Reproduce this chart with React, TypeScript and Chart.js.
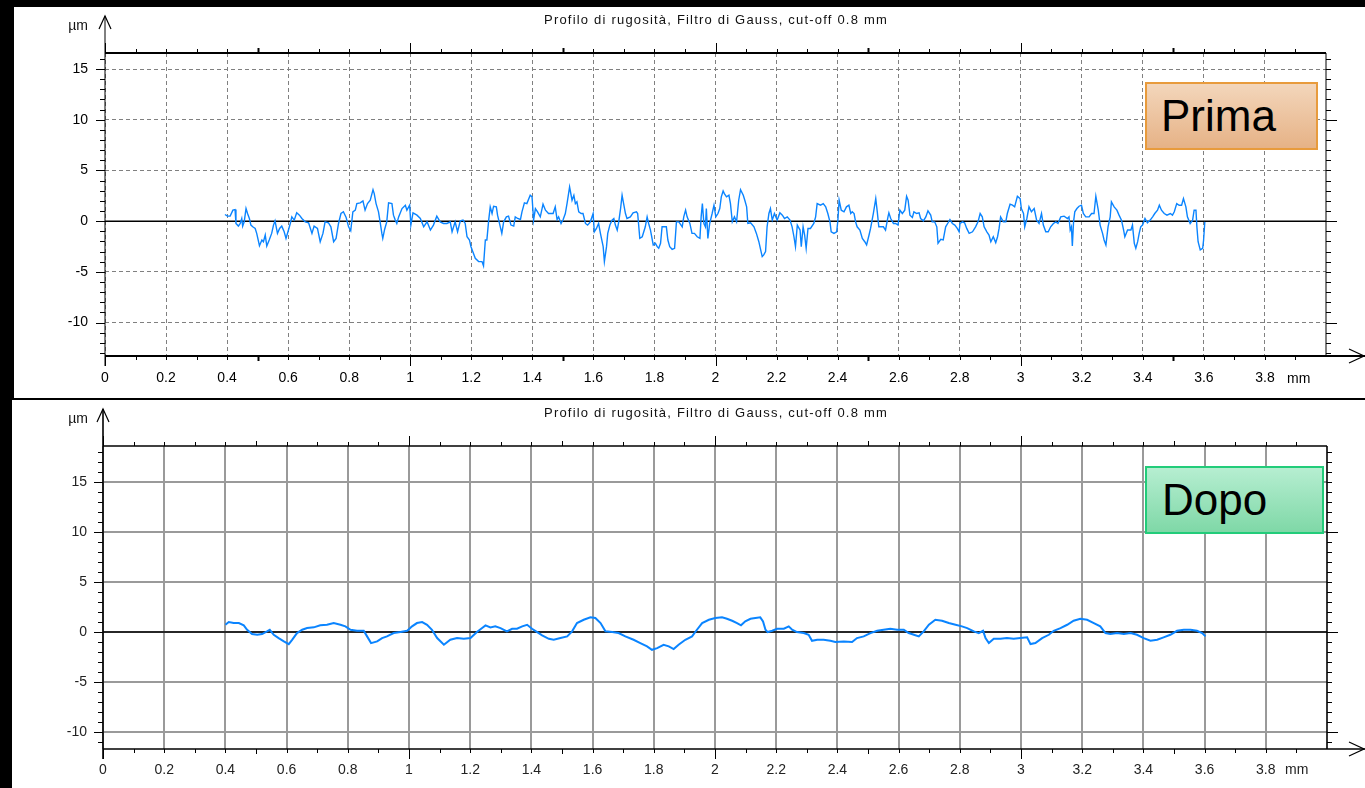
import React, { useEffect, useRef } from "react";
import { Chart, registerables } from "chart.js";

Chart.register(...registerables);

// ---------- data ----------
const X_TICK_VALUES = [0, 0.2, 0.4, 0.6, 0.8, 1, 1.2, 1.4, 1.6, 1.8, 2, 2.2, 2.4, 2.6, 2.8, 3, 3.2, 3.4, 3.6, 3.8];
const X_TICK_LABELS = ["0", "0.2", "0.4", "0.6", "0.8", "1", "1.2", "1.4", "1.6", "1.8", "2", "2.2", "2.4", "2.6", "2.8", "3", "3.2", "3.4", "3.6", "3.8"];
const Y_TICK_VALUES = [-10, -5, 0, 5, 10, 15];
const TITLE = "Profilo di rugosità, Filtro di Gauss, cut-off 0.8 mm";
const Y_UNIT = "µm";
const X_UNIT = "mm";

// "Prima" profile (mm, µm)
const PRIMA_X = [
  0.393, 0.401, 0.410, 0.419, 0.426, 0.429, 0.437, 0.443, 0.448, 0.451, 0.456, 0.462, 0.467, 0.473, 0.478, 0.484, 0.492, 0.497, 0.506, 0.514,
  0.519, 0.525, 0.530, 0.538, 0.546, 0.552, 0.557, 0.565, 0.572, 0.579, 0.587, 0.593, 0.601, 0.607, 0.612, 0.620, 0.628, 0.637, 0.645, 0.656,
  0.667, 0.678, 0.685, 0.696, 0.705, 0.714, 0.721, 0.732, 0.740, 0.749, 0.757, 0.765, 0.773, 0.781, 0.790, 0.798, 0.805, 0.812, 0.820, 0.825,
  0.836, 0.845, 0.852, 0.860, 0.869, 0.878, 0.882, 0.888, 0.896, 0.902, 0.907, 0.910, 0.916, 0.923, 0.929, 0.940, 0.945, 0.951, 0.956, 0.962,
  0.973, 0.984, 0.989, 0.998, 1.002, 1.009, 1.022, 1.033, 1.044, 1.055, 1.066, 1.076, 1.087, 1.098, 1.109, 1.120, 1.131, 1.137, 1.147, 1.155,
  1.164, 1.173, 1.180, 1.186, 1.194, 1.199, 1.205, 1.213, 1.224, 1.235, 1.240, 1.246, 1.251, 1.257, 1.262, 1.268, 1.273, 1.282, 1.286, 1.295,
  1.300, 1.306, 1.315, 1.322, 1.330, 1.339, 1.344, 1.352, 1.361, 1.366, 1.374, 1.382, 1.393, 1.399, 1.404, 1.410, 1.417, 1.426, 1.435, 1.443,
  1.453, 1.468, 1.475, 1.481, 1.486, 1.494, 1.501, 1.508, 1.514, 1.522, 1.530, 1.536, 1.541, 1.546, 1.552, 1.560, 1.566, 1.574, 1.581, 1.590,
  1.599, 1.603, 1.610, 1.617, 1.623, 1.632, 1.636, 1.643, 1.647, 1.654, 1.661, 1.667, 1.672, 1.678, 1.683, 1.689, 1.694, 1.699, 1.705, 1.710,
  1.721, 1.730, 1.741, 1.745, 1.752, 1.760, 1.770, 1.776, 1.781, 1.787, 1.796, 1.803, 1.809, 1.814, 1.820, 1.825, 1.839, 1.844, 1.850, 1.858,
  1.866, 1.872, 1.880, 1.891, 1.896, 1.902, 1.907, 1.916, 1.923, 1.931, 1.940, 1.949, 1.953, 1.957, 1.962, 1.967, 1.970, 1.975, 1.981, 1.989,
  1.995, 2.001, 2.008, 2.014, 2.019, 2.025, 2.029, 2.036, 2.044, 2.049, 2.055, 2.062, 2.069, 2.076, 2.082, 2.091, 2.096, 2.102, 2.106, 2.115,
  2.126, 2.134, 2.142, 2.148, 2.153, 2.158, 2.164, 2.169, 2.175, 2.180, 2.186, 2.193, 2.202, 2.211, 2.219, 2.226, 2.235, 2.244, 2.251, 2.257,
  2.262, 2.268, 2.277, 2.281, 2.287, 2.292, 2.297, 2.303, 2.311, 2.322, 2.328, 2.333, 2.344, 2.353, 2.361, 2.368, 2.375, 2.379, 2.388, 2.397,
  2.401, 2.405, 2.412, 2.421, 2.429, 2.437, 2.443, 2.448, 2.454, 2.459, 2.464, 2.473, 2.481, 2.489, 2.495, 2.503, 2.508, 2.517, 2.525, 2.530,
  2.535, 2.550, 2.557, 2.565, 2.568, 2.574, 2.583, 2.590, 2.598, 2.604, 2.612, 2.620, 2.626, 2.631, 2.637, 2.645, 2.650, 2.659, 2.667, 2.672,
  2.681, 2.689, 2.696, 2.705, 2.710, 2.718, 2.725, 2.729, 2.738, 2.746, 2.754, 2.762, 2.768, 2.776, 2.784, 2.792, 2.798, 2.801, 2.809, 2.816,
  2.823, 2.831, 2.842, 2.852, 2.860, 2.867, 2.874, 2.880, 2.889, 2.896, 2.902, 2.910, 2.918, 2.924, 2.929, 2.934, 2.943, 2.951, 2.956, 2.965,
  2.973, 2.980, 2.989, 2.998, 3.002, 3.009, 3.013, 3.020, 3.027, 3.035, 3.044, 3.052, 3.060, 3.068, 3.074, 3.082, 3.090, 3.098, 3.107, 3.115,
  3.122, 3.131, 3.142, 3.153, 3.158, 3.162, 3.166, 3.169, 3.173, 3.177, 3.184, 3.191, 3.199, 3.205, 3.213, 3.224, 3.232, 3.240, 3.246, 3.254,
  3.260, 3.268, 3.273, 3.279, 3.286, 3.293, 3.297, 3.306, 3.315, 3.322, 3.330, 3.337, 3.341, 3.350, 3.361, 3.366, 3.372, 3.377, 3.383, 3.388,
  3.393, 3.399, 3.407, 3.415, 3.424, 3.432, 3.439, 3.448, 3.454, 3.461, 3.470, 3.479, 3.490, 3.497, 3.503, 3.511, 3.519, 3.527, 3.533, 3.541,
  3.546, 3.555, 3.563, 3.568, 3.574, 3.577, 3.581, 3.588, 3.596, 3.599, 3.603,
];
const PRIMA_Y = [
  0.65, 0.49, 0.49, 1.08, 1.14, -0.23, -0.49, -0.23, 0.26, -0.49, -0.07, 1.24, 0.75, 0.26, -0.39, -0.56, -0.72, -1.21, -2.42, -1.86,
  -2.03, -1.37, -2.45, -1.86, -1.21, -0.39, 0.03, -1.21, -0.72, -0.49, -1.05, -1.70, -0.88, -0.23, 0.42, 0.10, 0.82, 0.59, 0.26, -0.07,
  -0.16, -1.21, -0.49, -0.72, -2.03, -1.21, -0.07, -0.16, -0.56, -2.03, -1.70, -0.23, 0.75, 0.92, 0.36, -0.56, -0.95, 0.92, 1.08, 1.73,
  1.80, 1.99, 1.08, 1.73, 2.06, 3.10, 2.71, 1.73, 0.92, -0.23, -1.21, -1.70, -0.82, -0.07, 1.80, 1.73, 0.59, 0.10, -0.23, 0.42,
  1.24, 1.57, 1.08, 1.57, -0.39, 0.82, 0.59, 0.26, -0.56, -0.07, -0.88, -0.39, 0.49, -0.07, -0.23, -0.23, -0.07, -1.05, -0.07, -1.05,
  0.03, 0.10, -0.23, -1.54, -1.86, -2.52, -3.01, -3.66, -3.99, -3.99, -4.41, -1.86, -1.86, 0.10, 1.41, 0.75, 1.47, 1.41, 0.59, -0.56,
  -1.21, -0.07, 0.42, 0.49, -0.39, -0.49, 0.42, 0.26, 0.16, 0.92, 1.80, 1.73, 2.55, 2.39, 0.10, 1.24, 0.92, 0.42, 1.67, 1.08,
  0.75, 0.75, 1.41, 0.16, 0.42, -0.23, 0.16, 0.75, 1.80, 3.37, 2.06, 2.55, 1.73, 1.90, 0.92, 0.75, 0.75, -0.23, -0.39, -0.07,
  0.75, -1.05, -0.72, -0.23, -1.21, -2.52, -3.99, -2.52, -1.21, -0.39, 0.10, 0.26, -0.39, -0.88, -0.07, 1.24, 2.55, 1.73, 0.75, 0.26,
  0.42, 0.82, 0.92, 0.75, -1.70, -1.54, -0.56, 0.42, -0.23, -0.88, -2.35, -2.19, -2.52, -2.68, -2.19, -0.56, -0.56, -1.86, -2.52, -2.78,
  -2.68, -0.07, -0.07, -0.56, 0.42, 1.08, 0.42, -0.23, -1.21, -1.21, -1.54, -1.70, 0.42, 1.73, -0.23, -0.56, 1.24, -1.70, -0.23, 0.75,
  1.57, 0.42, 0.75, 1.24, 2.39, 2.97, 2.71, 2.39, 2.55, 1.73, -0.07, 0.42, -0.07, 2.06, 3.10, 2.55, 2.06, 1.41, -0.23, -0.16,
  -0.56, -1.21, -2.03, -2.84, -3.50, -3.33, -3.01, -0.56, 0.75, 1.24, 0.10, 0.75, 0.10, 0.82, 0.59, 0.26, 0.42, 0.10, -0.56, -1.54,
  -2.52, -0.39, -0.88, -2.52, -0.56, -1.37, -2.68, -0.72, -0.72, -0.23, 0.42, 1.73, 1.57, 1.73, 1.41, 0.75, -0.07, -1.05, -1.21, -1.05,
  0.10, 2.06, 1.08, 0.92, 1.41, 1.57, 0.75, 0.92, 0.75, -0.07, -0.56, -0.88, -1.70, -2.03, -2.35, -1.37, -0.72, 0.75, 2.22, 0.92,
  -0.56, -0.56, -0.88, 0.42, 0.82, 0.26, -0.23, -0.23, -0.39, 1.08, 0.75, 1.08, 2.45, 2.06, 0.59, 0.36, 0.92, 0.75, 0.82, 0.26,
  0.03, 0.42, 1.01, 0.59, -0.07, -0.07, -0.56, -2.19, -1.80, -1.86, -0.56, -0.16, 0.16, -0.23, -0.39, -0.72, -1.05, -0.23, -0.07, -0.16,
  -0.72, -1.21, -1.05, -0.56, -0.07, 0.75, 0.42, -0.56, -1.05, -1.37, -2.03, -1.54, -2.12, -1.54, -0.72, 0.42, -0.07, -0.07, 0.75, 1.67,
  1.57, 1.41, 2.45, 2.22, 1.24, 0.75, -0.56, 0.26, 1.41, 0.92, 1.24, 0.10, -0.23, 0.75, -0.39, -1.05, -1.05, -0.56, -0.23, -0.07,
  -0.23, 0.42, 0.49, 0.26, 0.42, -0.88, -0.56, -2.45, -0.07, 0.92, 1.24, 1.47, 1.57, 0.75, 0.42, 0.42, 0.75, 0.75, 2.45, 1.08,
  -0.39, -1.21, -1.86, -2.35, -0.56, 0.42, 1.90, 1.41, 1.08, 0.59, 0.10, -0.88, -1.54, -0.88, -0.88, -0.39, -2.19, -2.68, -2.03, -1.21,
  -0.56, -0.39, 0.26, -0.16, 0.10, 0.42, 0.75, 1.08, 1.57, 1.08, 0.75, 0.59, 0.75, 0.59, 0.92, 1.73, 1.57, 1.57, 2.22, 1.41,
  0.42, -0.23, 0.10, 1.08, 1.08, -0.56, -2.03, -2.84, -2.68, -1.86, -0.07,
];

// "Dopo" profile (mm, µm)
const DOPO_X = [
  0.400, 0.411, 0.427, 0.444, 0.460, 0.471, 0.487, 0.504, 0.520, 0.536, 0.545, 0.558, 0.574, 0.591, 0.607, 0.618, 0.634, 0.651, 0.667, 0.689,
  0.710, 0.732, 0.754, 0.776, 0.792, 0.809, 0.830, 0.852, 0.863, 0.876, 0.896, 0.912, 0.928, 0.950, 0.972, 0.994, 1.010, 1.026, 1.043, 1.059,
  1.075, 1.092, 1.114, 1.135, 1.157, 1.179, 1.201, 1.222, 1.239, 1.250, 1.266, 1.282, 1.299, 1.320, 1.337, 1.353, 1.370, 1.386, 1.402, 1.419,
  1.435, 1.457, 1.473, 1.495, 1.517, 1.533, 1.549, 1.571, 1.593, 1.609, 1.626, 1.642, 1.664, 1.685, 1.707, 1.734, 1.756, 1.778, 1.794, 1.811,
  1.832, 1.849, 1.865, 1.881, 1.903, 1.925, 1.941, 1.958, 1.980, 2.001, 2.023, 2.039, 2.056, 2.072, 2.085, 2.099, 2.116, 2.132, 2.148, 2.157,
  2.165, 2.172, 2.187, 2.203, 2.225, 2.241, 2.252, 2.268, 2.290, 2.306, 2.317, 2.334, 2.355, 2.377, 2.393, 2.421, 2.448, 2.464, 2.486, 2.508,
  2.530, 2.551, 2.573, 2.595, 2.617, 2.633, 2.650, 2.666, 2.682, 2.699, 2.720, 2.742, 2.764, 2.786, 2.807, 2.824, 2.846, 2.862, 2.876, 2.884,
  2.895, 2.911, 2.933, 2.954, 2.976, 2.998, 3.020, 3.031, 3.047, 3.069, 3.091, 3.107, 3.129, 3.151, 3.172, 3.194, 3.216, 3.238, 3.259, 3.276,
  3.292, 3.314, 3.336, 3.358, 3.379, 3.401, 3.423, 3.445, 3.466, 3.488, 3.510, 3.532, 3.554, 3.575, 3.592, 3.603,
];
const DOPO_Y = [
  0.73, 1.00, 0.90, 0.90, 0.67, 0.23, -0.20, -0.27, -0.20, 0.07, 0.23, -0.27, -0.60, -0.93, -1.20, -0.77, -0.10, 0.23, 0.40, 0.47,
  0.67, 0.73, 0.90, 0.73, 0.57, 0.23, 0.13, 0.13, -0.43, -1.10, -0.93, -0.60, -0.43, -0.10, 0.00, 0.13, 0.57, 0.90, 1.00, 0.73,
  0.23, -0.60, -1.27, -0.77, -0.60, -0.67, -0.60, 0.00, 0.40, 0.67, 0.47, 0.57, 0.40, 0.07, 0.33, 0.33, 0.57, 0.73, 0.33, 0.00,
  -0.33, -0.67, -0.77, -0.60, -0.43, 0.07, 0.90, 1.23, 1.47, 1.40, 0.90, 0.07, 0.00, -0.10, -0.43, -0.77, -1.10, -1.43, -1.77, -1.60,
  -1.27, -1.43, -1.70, -1.27, -0.77, -0.43, 0.23, 0.90, 1.23, 1.40, 1.47, 1.33, 1.13, 0.90, 0.67, 1.07, 1.33, 1.40, 1.47, 1.07,
  0.23, 0.00, 0.13, 0.33, 0.33, 0.57, 0.23, 0.00, -0.10, -0.27, -0.87, -0.77, -0.77, -0.87, -1.00, -0.93, -1.00, -0.60, -0.43, -0.10,
  0.13, 0.23, 0.33, 0.23, 0.23, -0.10, -0.27, -0.43, 0.07, 0.73, 1.23, 1.13, 0.90, 0.73, 0.57, 0.40, 0.07, -0.10, 0.13, -0.60,
  -1.10, -0.67, -0.67, -0.60, -0.67, -0.60, -0.53, -1.20, -1.10, -0.60, -0.27, 0.13, 0.40, 0.73, 1.13, 1.33, 1.23, 0.90, 0.57, -0.10,
  -0.20, -0.10, -0.20, -0.10, -0.27, -0.60, -0.87, -0.77, -0.53, -0.27, 0.13, 0.23, 0.23, 0.13, -0.10, -0.43,
];

// ---------- chart panel ----------
type PanelCfg = {
  canvasLeft: number;
  canvasTop: number;
  width: number;
  height: number;
  padRight: number;
  yMin: number;
  yMax: number;
  xs: number[];
  ys: number[];
  lineWidth: number;
  gridColor: string;
  gridWidth: number;
  gridDash: number[];
  labelColor: string;
  frameTB: number;
  frameLR: number;
  midWidth: number;
  xLabelPad: number;
  yLabelPad: number;
};

const FONT = "'Liberation Sans', Arial, sans-serif";

function decorPlugin(p: PanelCfg) {
  const seg = (ctx: CanvasRenderingContext2D, x1: number, y1: number, x2: number, y2: number) => {
    ctx.beginPath();
    ctx.moveTo(x1, y1);
    ctx.lineTo(x2, y2);
    ctx.stroke();
  };
  return {
    id: "decor",
    beforeDatasetsDraw(chart: any) {
      const { ctx, chartArea: a, scales } = chart;
      const y0 = scales.y.getPixelForValue(0);
      ctx.save();
      ctx.strokeStyle = "#000";
      ctx.lineWidth = 1.5;
      seg(ctx, a.left, y0, a.right, y0);
      ctx.restore();
    },
    afterDraw(chart: any) {
      const { ctx, chartArea: a, scales } = chart;
      const W = chart.width;
      const L = a.left, R = a.right, T = a.top, B = a.bottom;
      const xs = scales.x, ys = scales.y;
      ctx.save();
      ctx.strokeStyle = "#000";
      ctx.lineCap = "butt";
      // x ticks (every 0.1 mm)
      for (let i = 0; i < 40; i++) {
        const px = Math.round(xs.getPixelForValue(i / 10)) + 0.5;
        const major = i % 10 === 0;
        const mid = i % 5 === 0 && !major;
        const len = major ? 10 : mid ? 5 : 4;
        ctx.lineWidth = mid ? p.midWidth : 1;
        seg(ctx, px, T, px, T - len);
        seg(ctx, px, B, px, B + len);
      }
      // y ticks (every 1 µm)
      ctx.lineWidth = 1;
      for (let v = Math.ceil(p.yMin); v <= Math.floor(p.yMax); v++) {
        const py = Math.round(ys.getPixelForValue(v)) + 0.5;
        seg(ctx, L, py, L - (v % 5 === 0 ? 9 : 5), py);
        seg(ctx, R, py, R + (v % 10 === 0 ? 11 : 5), py);
      }
      // frame
      ctx.lineWidth = p.frameTB;
      seg(ctx, L, T, R, T);
      seg(ctx, L, B, W, B);
      ctx.lineWidth = p.frameLR;
      seg(ctx, R, T, R, B);
      const tip = 9;
      seg(ctx, L, B + 10, L, tip);
      // arrows
      ctx.lineWidth = 1.2;
      ctx.beginPath();
      ctx.moveTo(L - 6, tip + 13);
      ctx.lineTo(L, tip);
      ctx.lineTo(L + 6, tip + 13);
      ctx.stroke();
      ctx.beginPath();
      ctx.moveTo(W - 16, B - 7);
      ctx.lineTo(W - 1, B);
      ctx.lineTo(W - 16, B + 7);
      ctx.stroke();
      ctx.restore();
    },
  };
}

function Panel({ p }: { p: PanelCfg }) {
  const ref = useRef<HTMLCanvasElement | null>(null);
  useEffect(() => {
    if (!ref.current) return;
    const data = p.xs.map((x, i) => ({ x, y: p.ys[i] }));
    const chart = new Chart(ref.current, {
      type: "line",
      data: {
        datasets: [
          {
            data,
            borderColor: "#0a84ff",
            borderWidth: p.lineWidth,
            pointRadius: 0,
            tension: 0,
            fill: false,
          },
        ],
      },
      options: {
        responsive: false,
        animation: false,
        devicePixelRatio: 1,
        events: [],
        layout: { padding: { top: 46, right: p.padRight, left: 0, bottom: 0 } },
        plugins: { legend: { display: false }, tooltip: { enabled: false } },
        scales: {
          x: {
            type: "linear",
            min: 0,
            max: 4,
            afterBuildTicks: (s: any) => {
              s.ticks = X_TICK_VALUES.map((v) => ({ value: v }));
            },
            afterFit: (s: any) => {
              s.height = p.height - 349;
            },
            ticks: {
              autoSkip: false,
              maxRotation: 0,
              padding: p.xLabelPad,
              color: p.labelColor,
              font: { family: FONT, size: 14 },
              callback: (_v: any, i: number) => X_TICK_LABELS[i],
            },
            grid: { color: p.gridColor, lineWidth: p.gridWidth, drawTicks: false },
            border: { display: false, dash: p.gridDash },
          },
          y: {
            type: "linear",
            min: p.yMin,
            max: p.yMax,
            afterBuildTicks: (s: any) => {
              s.ticks = Y_TICK_VALUES.map((v) => ({ value: v }));
            },
            afterFit: (s: any) => {
              s.width = 91;
            },
            ticks: {
              padding: p.yLabelPad,
              color: p.labelColor,
              font: { family: FONT, size: 14 },
              callback: (v: any) => String(v),
            },
            grid: { color: p.gridColor, lineWidth: p.gridWidth, drawTicks: false },
            border: { display: false, dash: p.gridDash },
          },
        },
      },
      plugins: [decorPlugin(p)],
    } as any);
    return () => chart.destroy();
  }, [p]);
  return (
    <canvas
      ref={ref}
      width={p.width}
      height={p.height}
      style={{ position: "absolute", left: p.canvasLeft, top: p.canvasTop, width: p.width, height: p.height }}
    />
  );
}

const TOP_PANEL: PanelCfg = {
  canvasLeft: 14,
  canvasTop: 7,
  width: 1351,
  height: 391,
  padRight: 39,
  yMin: -13.3,
  yMax: 16.58,
  xs: PRIMA_X,
  ys: PRIMA_Y,
  lineWidth: 1.4,
  gridColor: "#808080",
  gridWidth: 1,
  gridDash: [4, 3],
  labelColor: "#000",
  frameTB: 2,
  frameLR: 1,
  midWidth: 2,
  xLabelPad: 14,
  yLabelPad: 17,
};

const BOTTOM_PANEL: PanelCfg = {
  canvasLeft: 12,
  canvasTop: 400,
  width: 1353,
  height: 388,
  padRight: 38,
  yMin: -11.67,
  yMax: 18.57,
  xs: DOPO_X,
  ys: DOPO_Y,
  lineWidth: 2,
  gridColor: "#9a9a9a",
  gridWidth: 2,
  gridDash: [],
  labelColor: "#222",
  frameTB: 1.6,
  frameLR: 1.6,
  midWidth: 1,
  xLabelPad: 13,
  yLabelPad: 16,
};

const textStyle = (left: number, top: number, size: number, extra: any = {}) => ({
  position: "absolute" as const,
  left,
  top,
  fontFamily: FONT,
  fontSize: size,
  lineHeight: `${size + 4}px`,
  color: "#111",
  whiteSpace: "nowrap" as const,
  ...extra,
});

export default function App() {
  return (
    <div
      style={{
        position: "absolute",
        left: 0,
        top: 0,
        width: 1365,
        height: 788,
        overflow: "hidden",
        background: "#fff",
      }}
    >
      <Panel p={TOP_PANEL} />
      <Panel p={BOTTOM_PANEL} />

      {/* black frame pieces */}
      <div style={{ position: "absolute", left: 0, top: 0, width: 1365, height: 7, background: "#000" }} />
      <div style={{ position: "absolute", left: 0, top: 0, width: 14, height: 399, background: "#000" }} />
      <div style={{ position: "absolute", left: 0, top: 399, width: 12, height: 389, background: "#000" }} />
      <div style={{ position: "absolute", left: 12, top: 398, width: 1353, height: 2, background: "#000" }} />

      {/* titles & units */}
      <div style={textStyle(416, 11, 13, { width: 600, textAlign: "center", letterSpacing: "1.2px" })}>{TITLE}</div>
      <div style={textStyle(416, 404, 13, { width: 600, textAlign: "center", letterSpacing: "1.2px" })}>{TITLE}</div>
      <div style={textStyle(40, 16, 14, { width: 48, textAlign: "right" })}>{Y_UNIT}</div>
      <div style={textStyle(40, 409, 14, { width: 48, textAlign: "right" })}>{Y_UNIT}</div>
      <div style={textStyle(1287, 369, 14, { color: "#000" })}>{X_UNIT}</div>
      <div style={textStyle(1285, 760, 14, { color: "#222" })}>{X_UNIT}</div>

      {/* labels */}
      <div
        style={{
          position: "absolute",
          left: 1145,
          top: 82,
          width: 173,
          height: 68,
          boxSizing: "border-box",
          border: "2px solid #e89b3c",
          background: "linear-gradient(#f3d6bb, #e6b286)",
          fontFamily: FONT,
          fontSize: 44,
          lineHeight: "64px",
          paddingLeft: 14,
          color: "#000",
        }}
      >
        Prima
      </div>
      <div
        style={{
          position: "absolute",
          left: 1145,
          top: 466,
          width: 179,
          height: 68,
          boxSizing: "border-box",
          border: "2px solid #22cc7a",
          background: "linear-gradient(#b6eed1, #7fd8a7)",
          fontFamily: FONT,
          fontSize: 44,
          lineHeight: "64px",
          paddingLeft: 15,
          color: "#000",
        }}
      >
        Dopo
      </div>
    </div>
  );
}
